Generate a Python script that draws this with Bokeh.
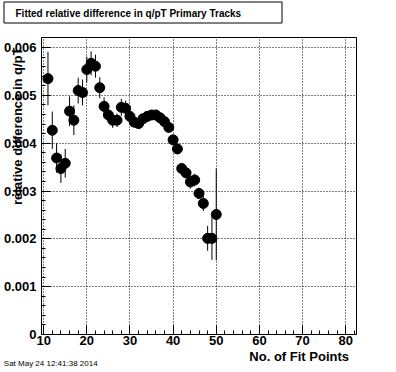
import math
from bokeh.plotting import figure
from bokeh.models import Range1d, FixedTicker, CustomJSTickFormatter, Label, ColumnDataSource
from bokeh.embed import file_html
from bokeh.resources import INLINE

# ---------------- data ----------------
title_text = "Fitted relative difference in q/pT Primary Tracks"
x_title = "No. of Fit Points"
y_title = "relative difference in q/pT"
date_text = "Sat May 24 12:41:38 2014"

fit_points = list(range(11, 51))
rel_diff = [0.00535, 0.00427, 0.00369, 0.00347, 0.00358, 0.00467, 0.00448, 0.00510,
            0.00506, 0.00554, 0.00567, 0.00561, 0.00516, 0.00477, 0.00459, 0.00448,
            0.00448, 0.00475, 0.00473, 0.00456, 0.00444, 0.00441, 0.00451, 0.00456,
            0.00459, 0.00459, 0.00453, 0.00445, 0.00433, 0.00407, 0.00388, 0.00347,
            0.00338, 0.00319, 0.00323, 0.00295, 0.00274, 0.00201, 0.00201, 0.00251]
rel_err = [0.00056, 0.00039, 0.00031, 0.00030, 0.00030, 0.00031, 0.00031, 0.00027,
           0.00027, 0.00027, 0.00025, 0.00024, 0.00022, 0.00019, 0.00015, 0.00016,
           0.00014, 0.00018, 0.00016, 0.00012, 0.00011, 0.00010, 0.00010, 0.00010,
           0.00010, 0.00010, 0.00010, 0.00010, 0.00010, 0.00010, 0.00010, 0.00011,
           0.00011, 0.00014, 0.00013, 0.00012, 0.00016, 0.00026, 0.00045, 0.00096]

x_ticks = [10, 20, 30, 40, 50, 60, 70, 80]
x_minor = [v for v in range(12, 83, 2) if v % 10 != 0]
y_ticks = [0.0, 0.001, 0.002, 0.003, 0.004, 0.005, 0.006]
y_minor = [round(0.0002 * k, 4) for k in range(1, 32) if k % 5 != 0]

X0, X1 = 9.5, 82.5
Y0, Y1 = 0.0, 0.00621

# ---------------- layout ----------------
W, H = 396, 372
BL, BR, BT, BB = 40, 40, 37, 38
FONT = "Liberation Sans"
POS = {"position": "absolute", "left": "0px", "top": "0px"}

p = figure(width=W, height=H, output_backend="svg", toolbar_location=None,
           x_range=Range1d(X0, X1), y_range=Range1d(Y0, Y1),
           min_border_left=BL, min_border_right=BR, min_border_top=BT, min_border_bottom=BB,
           background_fill_color="white", border_fill_color="white",
           outline_line_color="black", outline_line_width=1, styles=POS)

# axes
p.xaxis.ticker = FixedTicker(ticks=x_ticks, minor_ticks=x_minor)
p.yaxis.ticker = FixedTicker(ticks=y_ticks, minor_ticks=y_minor)
p.yaxis.formatter = CustomJSTickFormatter(code="return tick == 0 ? '0' : tick.toFixed(3);")
for ax in (p.xaxis[0], p.yaxis[0]):
    ax.axis_line_color = "black"
    ax.major_tick_line_color = "black"
    ax.minor_tick_line_color = "black"
    ax.major_tick_in = 9
    ax.major_tick_out = 0
    ax.minor_tick_in = 4
    ax.minor_tick_out = 0
    ax.major_label_text_font = FONT
    ax.major_label_text_font_style = "bold"
    ax.major_label_text_font_size = "13px"
    ax.major_label_text_color = "black"
p.xaxis.major_label_standoff = 1
p.yaxis.major_label_standoff = 5

# grid
for g in (p.xgrid[0], p.ygrid[0]):
    g.grid_line_color = "black"
    g.grid_line_dash = "1 2"
    g.grid_line_width = 1
p.xgrid.ticker = FixedTicker(ticks=x_ticks)
p.ygrid.ticker = FixedTicker(ticks=y_ticks)

# data
src = ColumnDataSource(dict(
    x=fit_points, y=rel_diff,
    lo=[v - e for v, e in zip(rel_diff, rel_err)],
    hi=[v + e for v, e in zip(rel_diff, rel_err)],
))
p.segment(x0="x", y0="lo", x1="x", y1="hi", source=src, line_color="black", line_width=1)
p.scatter(x="x", y="y", source=src, marker="circle", size=10,
          fill_color="black", line_color="black")

# ---------------- text layer (canvas-sized frame, pixel coordinates) ----------------
t = figure(width=W, height=H, output_backend="svg", toolbar_location=None,
           x_range=Range1d(0, W), y_range=Range1d(H, 0),
           x_axis_type=None, y_axis_type=None,
           min_border=0, min_border_left=0, min_border_right=0,
           min_border_top=0, min_border_bottom=0,
           background_fill_alpha=0, border_fill_alpha=0,
           outline_line_color=None, styles=POS)
t.grid.visible = False

# title box (pave)
t.quad(left=[3.5], right=[281.5], top=[1.5], bottom=[22.5],
       fill_color="white", line_color="black", line_width=1)


def pix_label(px, py, text, **kw):
    return Label(x=px, y=py, text=text, text_font=FONT, text_color="black", **kw)


t.add_layout(pix_label(15, 12.5, title_text,
                       text_font_style="bold", text_font_size="10px",
                       text_align="left", text_baseline="middle"))
t.add_layout(pix_label(16.5, 47, y_title, angle=math.pi / 2,
                       text_font_style="bold", text_font_size="13px",
                       text_align="right", text_baseline="middle"))
t.add_layout(pix_label(348.5, 356, x_title,
                       text_font_style="bold", text_font_size="13px",
                       text_align="right", text_baseline="middle"))
t.add_layout(pix_label(3.3, 363.3, date_text, text_font_size="8px",
                       text_align="left", text_baseline="middle"))

open("out.html", "w").write(file_html([p, t], INLINE))
